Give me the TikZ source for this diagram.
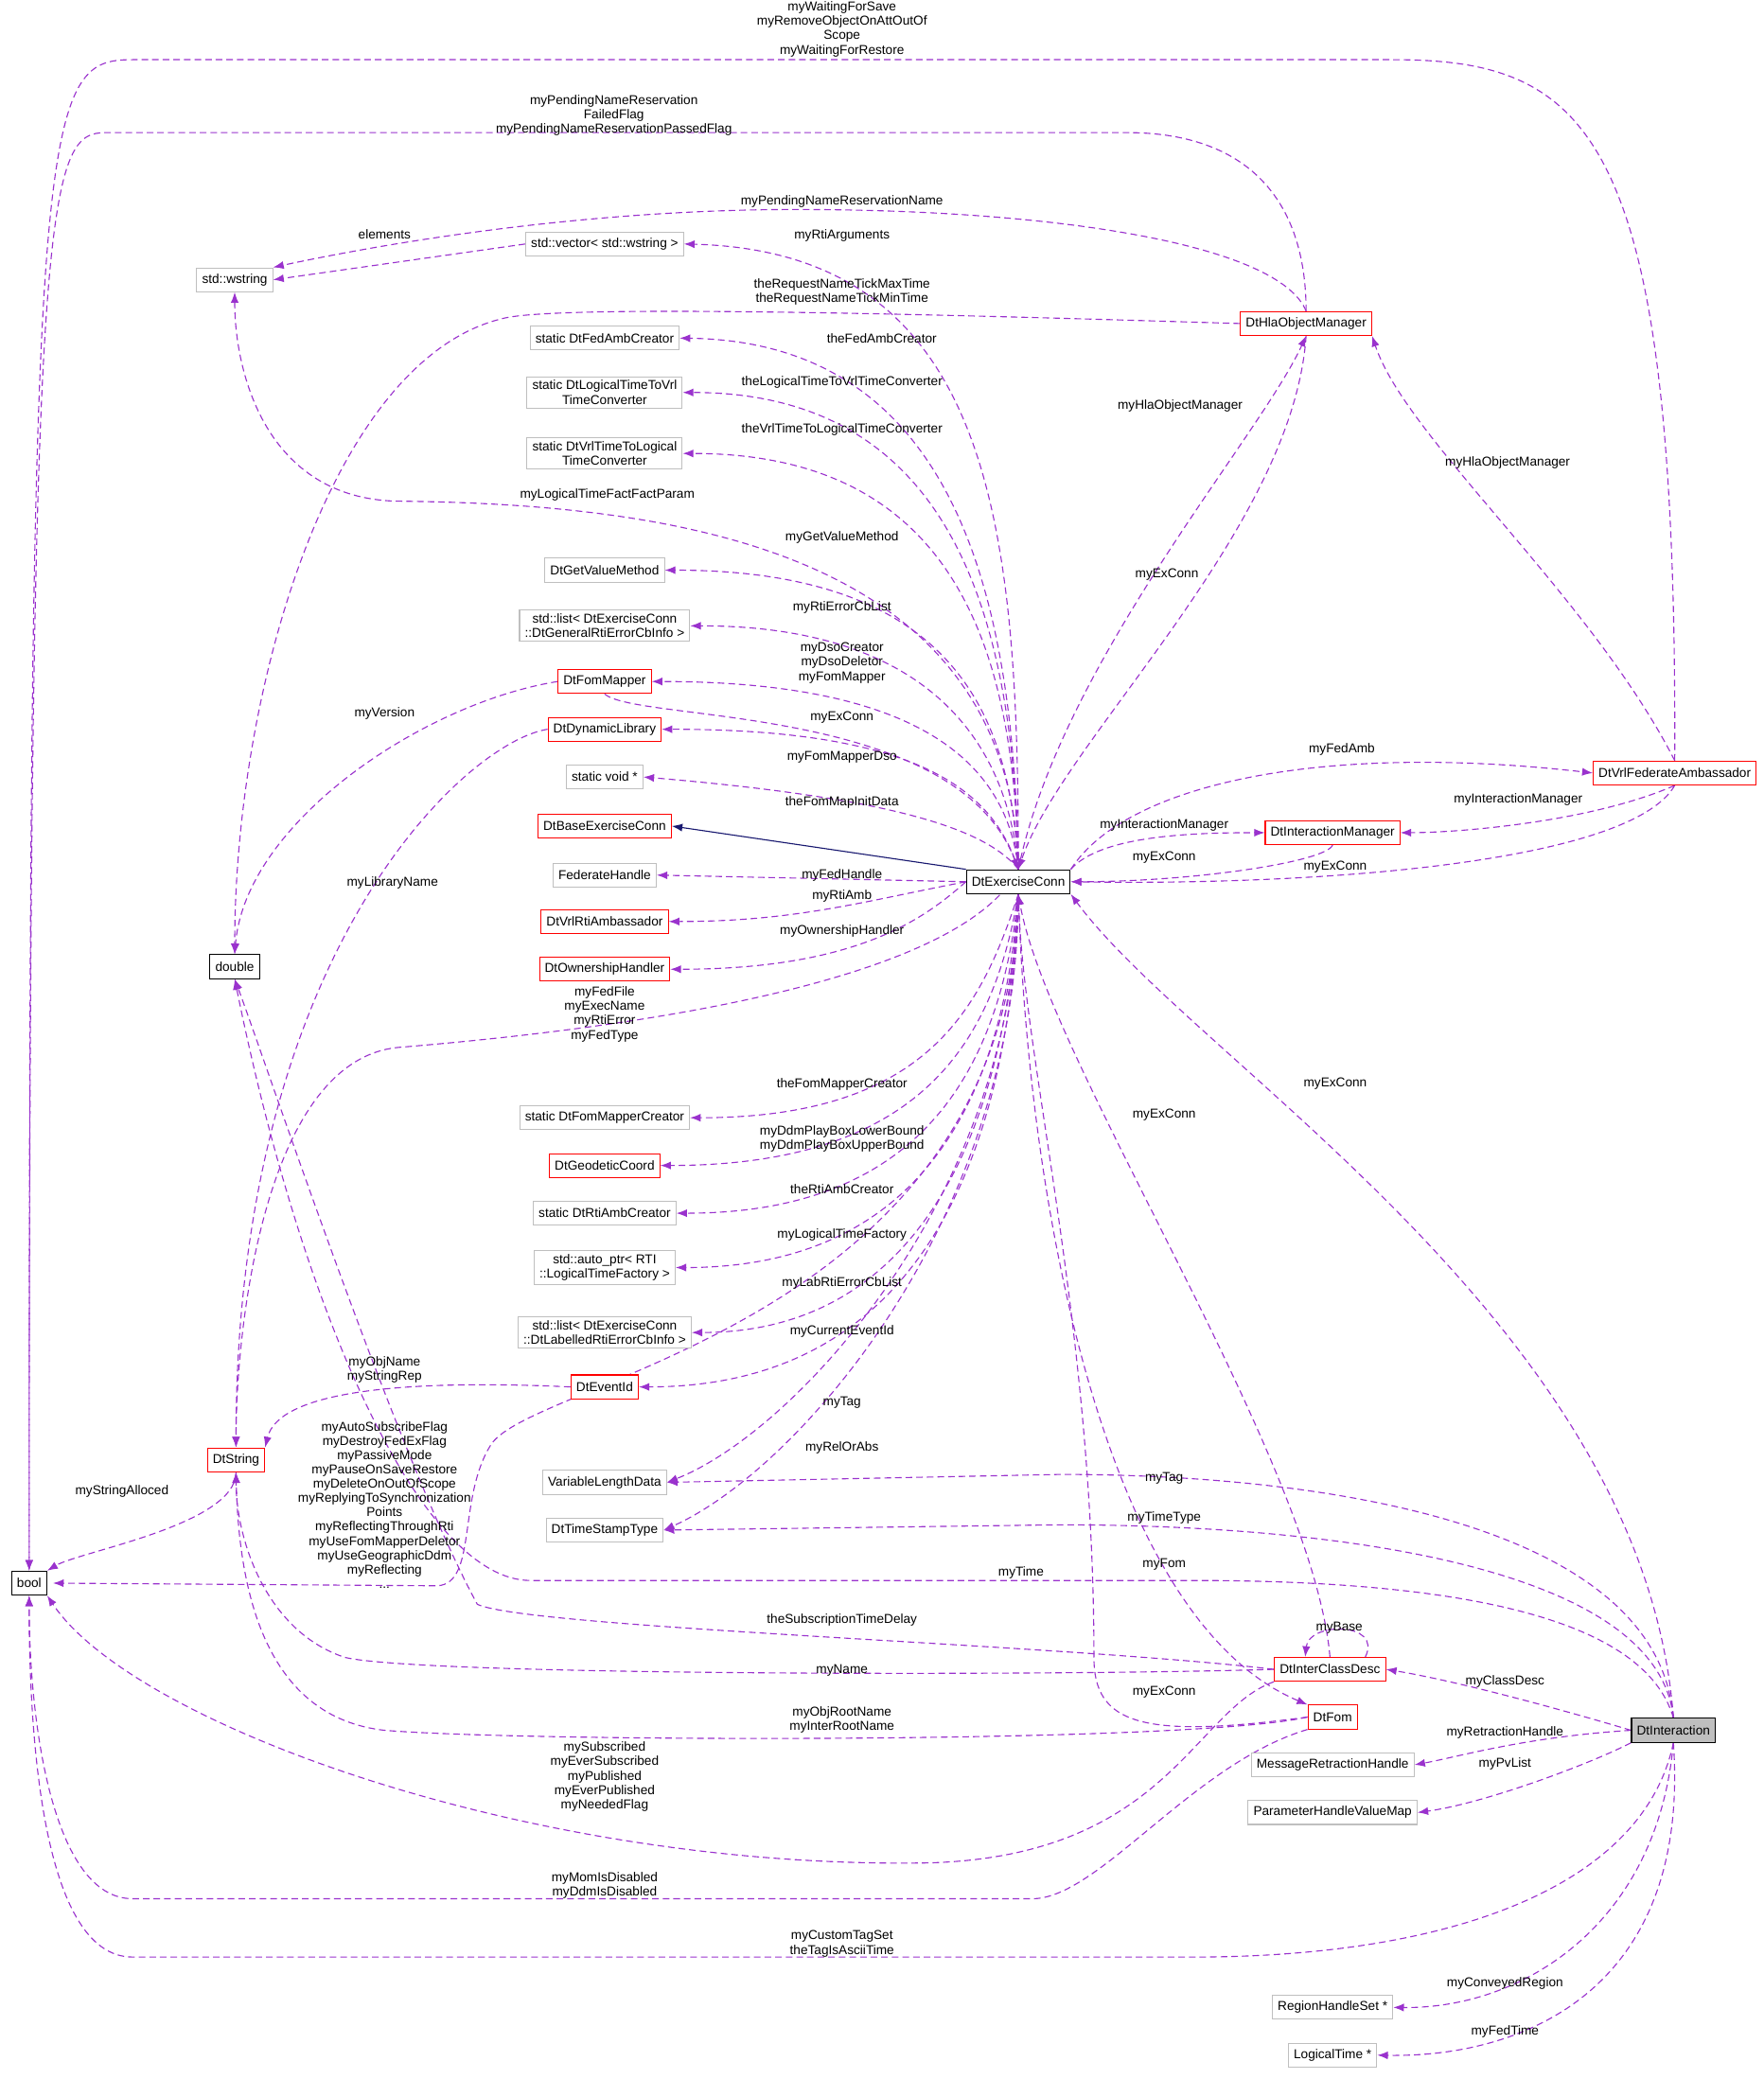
\documentclass[tikz,border=0pt]{standalone}
\usepackage{fontspec}
\setmainfont{Liberation Sans}
\usetikzlibrary{arrows.meta,calc}
\definecolor{dep}{HTML}{9A32CD}
\definecolor{gb}{HTML}{BFBFBF}
\definecolor{inh}{HTML}{191970}
\pgfdeclarelayer{bg}
\pgfsetlayers{bg,main}
\begin{document}
\begin{tikzpicture}[x=0.75pt,y=-0.75pt,
 box/.style={draw,rectangle,line width=0.55pt,inner xsep=3pt,inner ysep=2pt,minimum height=13.5pt,font=\fontsize{7.3}{8.3}\selectfont,align=center,fill=white},
 g/.style={box,draw=gb},
 r/.style={box,draw=red},
 k/.style={box,draw=black},
 lab/.style={font=\fontsize{7.3}{8.1}\selectfont,align=center,inner sep=0pt},
 d/.style={draw=dep,dash pattern=on 3.75pt off 2.25pt,line width=0.6pt,-{Latex[length=6pt,width=4.5pt]}}]
\useasboundingbox (0,0) rectangle (1330,1568);
% nodes
\node[k] (bool) at (22,1194) {bool};
\node[k] (double) at (177,729) {double};
\node[r] (dts) at (178,1101) {DtString};
\node[g] (ws) at (177,211) {std::wstring};
\node[g] (vec) at (456,184) {std::vector\textless{} std::wstring \textgreater};
\node[g] (fac) at (456,255) {static DtFedAmbCreator};
\node[g] (l2v) at (456,296) {static DtLogicalTimeToVrl\\TimeConverter};
\node[g] (v2l) at (456,342) {static DtVrlTimeToLogical\\TimeConverter};
\node[g] (gvm) at (456,430) {DtGetValueMethod};
\node[g] (lg) at (456,472) {std::list\textless{} DtExerciseConn\\::DtGeneralRtiErrorCbInfo \textgreater};
\node[r] (fm) at (456,514) {DtFomMapper};
\node[r] (dl) at (456,550) {DtDynamicLibrary};
\node[g] (sv) at (456,586) {static void *};
\node[r] (bec) at (456,623) {DtBaseExerciseConn};
\node[g] (fh) at (456,660) {FederateHandle};
\node[r] (vra) at (456,695) {DtVrlRtiAmbassador};
\node[r] (oh) at (456,731) {DtOwnershipHandler};
\node[g] (fmc) at (456,843) {static DtFomMapperCreator};
\node[r] (gc) at (456,879) {DtGeodeticCoord};
\node[g] (rac) at (456,915) {static DtRtiAmbCreator};
\node[g] (ap) at (456,956) {std::auto\_ptr\textless{} RTI\\::LogicalTimeFactory \textgreater};
\node[g] (ll) at (456,1005) {std::list\textless{} DtExerciseConn\\::DtLabelledRtiErrorCbInfo \textgreater};
\node[r] (eid) at (456,1046) {DtEventId};
\node[g] (vld) at (456,1118) {VariableLengthData};
\node[g] (tst) at (456,1154) {DtTimeStampType};
\node[k] (ec) at (768,665) {DtExerciseConn};
\node[r] (hom) at (985,244) {DtHlaObjectManager};
\node[r] (im) at (1005,628) {DtInteractionManager};
\node[r] (vfa) at (1263,583) {DtVrlFederateAmbassador};
\node[r] (icd) at (1003,1259) {DtInterClassDesc};
\node[r] (fom) at (1005,1295) {DtFom};
\node[box,draw=black,fill=gb] (dti) at (1262,1305) {DtInteraction};
\node[g] (mrh) at (1005,1331) {MessageRetractionHandle};
\node[g] (phv) at (1005,1367) {ParameterHandleValueMap};
\node[g] (rhs) at (1005,1514) {RegionHandleSet *};
\node[g] (lt) at (1005,1550) {LogicalTime *};
% labels
\node[lab] (t1) at (635,22) {myWaitingForSave\\myRemoveObjectOnAttOutOf\\Scope\\myWaitingForRestore};
\node[lab] (t2) at (463,87) {myPendingNameReservation\\FailedFlag\\myPendingNameReservationPassedFlag};
\node[lab] (t3) at (635,152) {myPendingNameReservationName};
\node[lab] (t4) at (290,177) {elements};
\node[lab] (t5) at (635,178) {myRtiArguments};
\node[lab] (t6) at (635,220) {theRequestNameTickMaxTime\\theRequestNameTickMinTime};
\node[lab] (t7) at (665,255) {theFedAmbCreator};
\node[lab] (t8) at (635,288) {theLogicalTimeToVrlTimeConverter};
\node[lab] (t9) at (635,324) {theVrlTimeToLogicalTimeConverter};
\node[lab] (t10) at (458,373) {myLogicalTimeFactFactParam};
\node[lab] (t11) at (635,405) {myGetValueMethod};
\node[lab] (t12) at (635,458) {myRtiErrorCbList};
\node[lab] (t13) at (635,500) {myDsoCreator\\myDsoDeletor\\myFomMapper};
\node[lab] (t14) at (635,541) {myExConn};
\node[lab] (t15) at (290,538) {myVersion};
\node[lab] (t16) at (296,666) {myLibraryName};
\node[lab] (t17) at (635,571) {myFomMapperDso};
\node[lab] (t18) at (635,605) {theFomMapInitData};
\node[lab] (t20) at (635,660) {myFedHandle};
\node[lab] (t21) at (635,676) {myRtiAmb};
\node[lab] (t22) at (635,702) {myOwnershipHandler};
\node[lab] (t23) at (456,765) {myFedFile\\myExecName\\myRtiError\\myFedType};
\node[lab] (t24) at (635,818) {theFomMapperCreator};
\node[lab] (t25) at (635,859) {myDdmPlayBoxLowerBound\\myDdmPlayBoxUpperBound};
\node[lab] (t26) at (635,897) {theRtiAmbCreator};
\node[lab] (t27) at (635,931) {myLogicalTimeFactory};
\node[lab] (t28) at (635,968) {myLabRtiErrorCbList};
\node[lab] (t29) at (635,1004) {myCurrentEventId};
\node[lab] (t30) at (290,1033) {myObjName\\myStringRep};
\node[lab] (t31) at (635,1058) {myTag};
\node[lab] (t32) at (635,1092) {myRelOrAbs};
\node[lab] (t33) at (290,1135) {myAutoSubscribeFlag\\myDestroyFedExFlag\\myPassiveMode\\myPauseOnSaveRestore\\myDeleteOnOutOfScope\\myReplyingToSynchronization\\Points\\myReflectingThroughRti\\myUseFomMapperDeletor\\myUseGeographicDdm\\myReflecting\\...};
\node[lab] (t34) at (92,1125) {myStringAlloced};
\node[lab] (t35) at (890,306) {myHlaObjectManager};
\node[lab] (t35b) at (880,433) {myExConn};
\node[lab] (t36) at (1137,349) {myHlaObjectManager};
\node[lab] (t37) at (1012,565) {myFedAmb};
\node[lab] (t38) at (1145,603) {myInteractionManager};
\node[lab] (t39) at (878,622) {myInteractionManager};
\node[lab] (t40) at (878,647) {myExConn};
\node[lab] (t41) at (1007,654) {myExConn};
\node[lab] (t42) at (1007,817) {myExConn};
\node[lab] (t43) at (878,841) {myExConn};
\node[lab] (t44) at (878,1276) {myExConn};
\node[lab] (t45) at (878,1180) {myFom};
\node[lab] (t46) at (878,1115) {myTag};
\node[lab] (t47) at (878,1145) {myTimeType};
\node[lab] (t48) at (770,1186) {myTime};
\node[lab] (t49) at (635,1222) {theSubscriptionTimeDelay};
\node[lab] (t50) at (1010,1228) {myBase};
\node[lab] (t51) at (635,1260) {myName};
\node[lab] (t52) at (635,1297) {myObjRootName\\myInterRootName};
\node[lab] (t53) at (456,1340) {mySubscribed\\myEverSubscribed\\myPublished\\myEverPublished\\myNeededFlag};
\node[lab] (t54) at (456,1422) {myMomIsDisabled\\myDdmIsDisabled};
\node[lab] (t55) at (635,1466) {myCustomTagSet\\theTagIsAsciiTime};
\node[lab] (t56) at (1135,1268) {myClassDesc};
\node[lab] (t57) at (1135,1307) {myRetractionHandle};
\node[lab] (t58) at (1135,1330) {myPvList};
\node[lab] (t59) at (1135,1496) {myConveyedRegion};
\node[lab] (t60) at (1135,1532) {myFedTime};
% edges
\begin{pgfonlayer}{bg}
\path[d] (vfa.north) .. controls (1265,100) and (1200,45) .. (1050,45) -- (100,45) .. controls (30,45) and (22,80) .. (bool.north);
\path[d] (hom.north) .. controls (985,150) and (940,100) .. (850,100) -- (80,100) .. controls (35,100) and (22,140) .. (bool.north);
\path[d] (hom.north) .. controls (965,185) and (800,158) .. (600,158) .. controls (420,158) and (260,190) .. (ws.north east);
\path[d] (vec.west) -- (ws.east);
\path[d] (ec.north) .. controls (768,400) and (750,190) .. (vec.east);
\path[d] (hom.west) .. controls (800,240) and (430,228) .. (380,240) .. controls (250,270) and (177,520) .. (double.north);
\path[d] (ec.north) .. controls (765,450) and (720,258) .. (fac.east);
\path[d] (ec.north) .. controls (765,470) and (720,296) .. (l2v.east);
\path[d] (ec.north) .. controls (765,490) and (720,342) .. (v2l.east);
\path[d] (ec.north) .. controls (762,420) and (520,380) .. (300,378) .. controls (200,376) and (177,280) .. (ws.south);
\path[d] (ec.north) .. controls (762,540) and (720,430) .. (gvm.east);
\path[d] (ec.north) .. controls (760,560) and (700,472) .. (lg.east);
\path[d] (ec.north) .. controls (760,580) and (700,514) .. (fm.east);
\path[d] (fm.south) .. controls (480,545) and (720,530) .. (ec.north);
\path[d] (fm.west) .. controls (320,530) and (185,620) .. (double.north);
\path[d] (dl.west) .. controls (350,560) and (178,720) .. (dts.north);
\path[d] (ec.north) .. controls (750,600) and (700,550) .. (dl.east);
\path[d] (ec.north) .. controls (740,620) and (650,600) .. (sv.east);
\draw[inh,line width=0.6pt,-{Latex[length=6pt,width=4.5pt]}] (ec.north west) -- (bec.east);
\path[d] (ec.west) -- (fh.east);
\path[d] (ec.west) .. controls (650,680) and (600,695) .. (vra.east);
\path[d] (ec.west) .. controls (700,690) and (650,731) .. (oh.east);
\path[d] (ec.north) .. controls (720,750) and (420,780) .. (300,790) .. controls (200,800) and (178,1000) .. (dts.north);
\path[d] (ec.south) .. controls (740,760) and (700,843) .. (fmc.east);
\path[d] (ec.south) .. controls (750,780) and (700,879) .. (gc.east);
\path[d] (ec.south) .. controls (755,800) and (700,915) .. (rac.east);
\path[d] (ec.south) .. controls (758,820) and (700,956) .. (ap.east);
\path[d] (ec.south) .. controls (760,840) and (700,1005) .. (ll.east);
\path[d] (ec.south) .. controls (762,860) and (700,1046) .. (eid.east);
\path[d] (eid.west) .. controls (300,1040) and (210,1050) .. (dts.north east);
\path[d] (ec.south) .. controls (765,900) and (600,1080) .. (vld.east);
\path[d] (ec.south) .. controls (768,920) and (600,1110) .. (tst.east);
\path[d] (ec.south) .. controls (760,1000) and (400,1040) .. (370,1090) .. controls (345,1130) and (360,1194) .. (330,1196) -- (40,1194);
\path[d] (dts.south) .. controls (178,1150) and (60,1170) .. (bool.north east);
\path[d] (ec.north) .. controls (800,500) and (950,330) .. (hom.south);
\path[d] (hom.south) .. controls (975,400) and (800,560) .. (ec.north);
\path[d] (vfa.north) .. controls (1200,450) and (1060,330) .. (hom.south east);
\path[d] (ec.north east) .. controls (850,590) and (1000,560) .. (vfa.west);
\path[d] (vfa.south) .. controls (1200,620) and (1100,628) .. (im.east);
\path[d] (ec.north east) .. controls (830,630) and (900,628) .. (im.west);
\path[d] (im.south) .. controls (1000,650) and (900,665) .. (ec.east);
\path[d] (vfa.south) .. controls (1230,650) and (1000,668) .. (ec.east);
\path[d] (dti.north) .. controls (1240,1000) and (900,800) .. (ec.south east);
\path[d] (icd.north) .. controls (990,1100) and (790,800) .. (ec.south);
\path[d] (fom.west) .. controls (860,1312) and (825,1300) .. (825,1250) .. controls (825,1000) and (772,800) .. (ec.south);
\path[d] (ec.south) .. controls (775,900) and (830,1220) .. (fom.north west);
\path[d] (dti.north) .. controls (1250,1150) and (1000,1112) .. (800,1112) -- (vld.east);
\path[d] (dti.north) .. controls (1250,1180) and (1000,1150) .. (800,1150) -- (tst.east);
\path[d] (dti.north) .. controls (1240,1220) and (1100,1192) .. (900,1192) -- (400,1192) .. controls (320,1192) and (230,1000) .. (double.south);
\path[d] (icd.west) .. controls (800,1240) and (400,1228) .. (360,1210) .. controls (300,1100) and (200,800) .. (double.south);
\path[d] ($(icd.north)+(20pt,0)$) .. controls ($(icd.north)+(30pt,20pt)$) and ($(icd.north)+(-12pt,20pt)$) .. ($(icd.north)+(-14pt,0)$);
\path[d] (icd.west) .. controls (800,1264) and (320,1264) .. (260,1250) .. controls (200,1230) and (178,1160) .. (dts.south);
\path[d] (fom.west) .. controls (900,1315) and (400,1314) .. (290,1305) .. controls (200,1295) and (180,1200) .. (dts.south);
\path[d] (icd.south west) .. controls (900,1290) and (880,1400) .. (700,1405) .. controls (400,1410) and (100,1300) .. (bool.south east);
\path[d] (fom.south west) .. controls (900,1330) and (830,1430) .. (780,1432) -- (100,1432) .. controls (40,1432) and (22,1300) .. (bool.south);
\path[d] (dti.south) .. controls (1240,1420) and (1100,1476) .. (900,1476) -- (100,1476) .. controls (30,1476) and (22,1300) .. (bool.south);
\path[d] (dti.west) .. controls (1180,1290) and (1100,1268) .. (icd.east);
\path[d] (dti.west) .. controls (1150,1310) and (1100,1325) .. (mrh.east);
\path[d] (dti.south west) .. controls (1200,1330) and (1120,1360) .. (phv.east);
\path[d] (dti.south) .. controls (1250,1450) and (1150,1515) .. (rhs.east);
\path[d] (dti.south) .. controls (1275,1500) and (1150,1552) .. (lt.east);
\end{pgfonlayer}
\end{tikzpicture}
\end{document}
